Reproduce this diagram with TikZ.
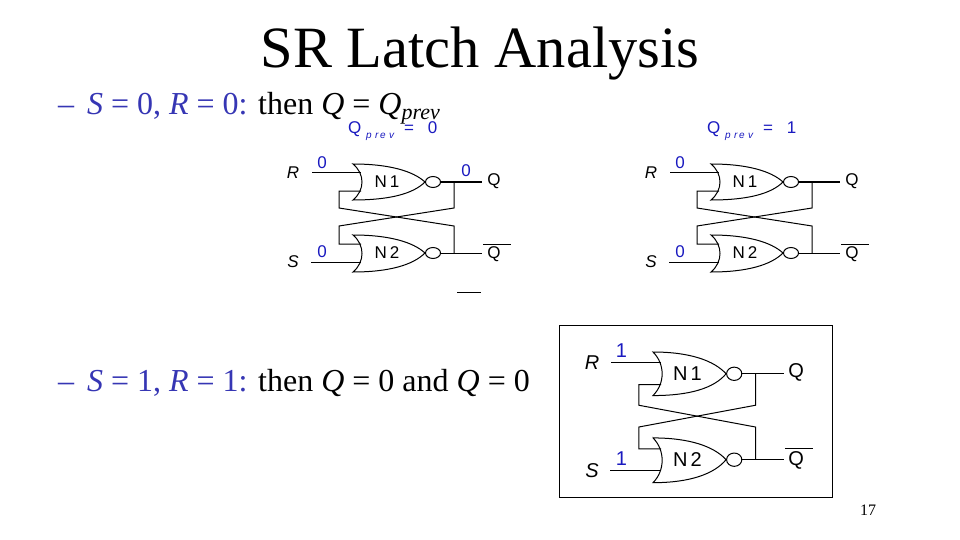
\documentclass[tikz,border=0pt]{standalone}
\usepackage{fontspec}
\setmainfont{Liberation Serif}
\newfontfamily\diagfont{Liberation Sans}
\definecolor{bullet}{HTML}{3636B4}
\definecolor{sig}{HTML}{1A1AC0}
\newcommand{\fsz}[1]{\fontsize{#1}{#1}\selectfont}
\tikzset{
  wire/.style={draw=black,line width=1pt,line join=miter},
  lbl/.style={inner sep=0pt,outer sep=0pt,font=\diagfont},
  val/.style={lbl,text=sig},
  slide/.style={inner sep=0pt,outer sep=0pt,anchor=base west},
}
\newcommand{\latchdiagram}[9]{%
\begin{scope}[shift={(#2,#3)},xscale=#4,yscale=#5]
  \def\lsz{#6}
  \coordinate (#1Rin) at (-41,9);   \coordinate (#1Ra) at (8,9);
  \coordinate (#1Sin) at (-42,98);  \coordinate (#1Sa) at (8,98);
  \coordinate (#1Fa) at (8,27);     \coordinate (#1Fb) at (8,80);
  \coordinate (#1Oa) at (87,18);    \coordinate (#1Ob) at (87,89);
  \coordinate (#1Ja) at (101,18);   \coordinate (#1Jb) at (101,89);
  \coordinate (#1Qa) at (129,18);   \coordinate (#1Qb) at (129,89);
  \coordinate (#1Ba) at (130,80);   \coordinate (#1Bb) at (158,80);
  % gates
  \draw[wire] (0,0) .. controls (12,10) and (12,26) .. (0,36)
     .. controls (36,36) and (60,30) .. (72,18)
     .. controls (60,7) and (36,0) .. cycle;
  \draw[wire] (0,71) .. controls (12,81) and (12,98) .. (0,108)
     .. controls (36,108) and (60,101) .. (72,89)
     .. controls (60,78) and (36,71) .. cycle;
  \draw[wire] (80,18) ellipse (7.5 and 5.5);
  \draw[wire] (80,89) ellipse (7.5 and 5.5);
  % connectors
  \draw[wire] (#1Rin) -- (#1Ra);
  \draw[wire] (#1Sin) -- (#1Sa);
  \draw[wire] (#1Oa) -- (#1Qa);
  \draw[wire] (#1Ob) -- (#1Qb);
  \draw[wire] (#1Ja) -- (101,44) -- (-14,62) -- (-14,80) -- (#1Fb);
  \draw[wire] (#1Jb) -- (101,62) -- (-14,44) -- (-14,27) -- (#1Fa);
  \draw[wire] (#1Ba) -- (#1Bb);
  % labels
  \node[lbl,font=\diagfont\itshape\fsz{\lsz}] (#1R) at (-60,8.5) {R};
  \node[lbl,font=\diagfont\itshape\fsz{\lsz}] (#1S) at (-60,98) {S};
  \node[val,font=\diagfont\fsz{\lsz}] (#1Rv) at (-31,-1) {#7};
  \node[val,font=\diagfont\fsz{\lsz}] (#1Sv) at (-31,88) {#8};
  \node[lbl,font=\diagfont\fsz{\lsz}] (#1N1) at (34,17.5) {N\hspace{3pt}1};
  \node[lbl,font=\diagfont\fsz{\lsz}] (#1N2) at (34,89) {N\hspace{3pt}2};
  \node[lbl,font=\diagfont\fsz{\lsz}] (#1Q) at (141,17) {Q};
  \node[lbl,font=\diagfont\fsz{\lsz}] (#1Qn) at (141,90) {Q};
  #9
\end{scope}}
\newcommand{\qprev}[1]{Q\hspace{5pt}\raisebox{-5pt}{\fsz{10}\itshape p\,\,r\,e\,\,v}\hspace{10pt}=\hspace{14pt}#1}
\begin{document}
\begin{tikzpicture}[x=1pt,y=-1pt]
\useasboundingbox (0,0) rectangle (960,540);
\fill[white] (0,0) rectangle (960,540);
\node[inner sep=0pt,outer sep=0pt,anchor=base,font=\fsz{58.5}] (title) at (480,68) {SR Latch Analysis};
\node[slide,text=bullet,font=\fsz{32}] (b1a) at (58,115) {–};
\node[slide,font=\fsz{32}] (b1) at (87,115) {\textcolor{bullet}{\textit{S} = 0, \textit{R} = 0:} then \textit{Q} = \textit{Q}\raisebox{-5pt}{\fsz{22}\textit{prev}}};
\node[slide,text=bullet,font=\fsz{32}] (b2a) at (58,391) {–};
\node[slide,font=\fsz{32}] (b2) at (87,391) {\textcolor{bullet}{\textit{S} = 1, \textit{R} = 1:} then \textit{Q} = 0 and \textit{Q} = 0};
\node[inner sep=0pt,outer sep=0pt,font=\fsz{16}] (page) at (868,510) {17};
\node[val,font=\diagfont\fsz{17},anchor=base west] (qp1) at (348,134) {\qprev{0}};
\node[val,font=\diagfont\fsz{17},anchor=base west] (qp2) at (707,134) {\qprev{1}};
\latchdiagram{A}{353}{164}{1}{1}{17}{0}{0}{\node[val,font=\diagfont\fsz{17}] (Aqv) at (113,7) {0};}
\latchdiagram{B}{711}{164}{1}{1}{17}{0}{0}{}
\latchdiagram{C}{653}{352}{1.015}{1.21}{20}{1}{1}{}
\coordinate (barL) at (457,292); \coordinate (barR) at (481,292);
\draw[wire] (barL) -- (barR);
\node[draw=black,line width=1pt,inner sep=0pt,minimum width=273pt,minimum height=172pt,anchor=north west] (frame) at (559,325) {};
\end{tikzpicture}
\end{document}
